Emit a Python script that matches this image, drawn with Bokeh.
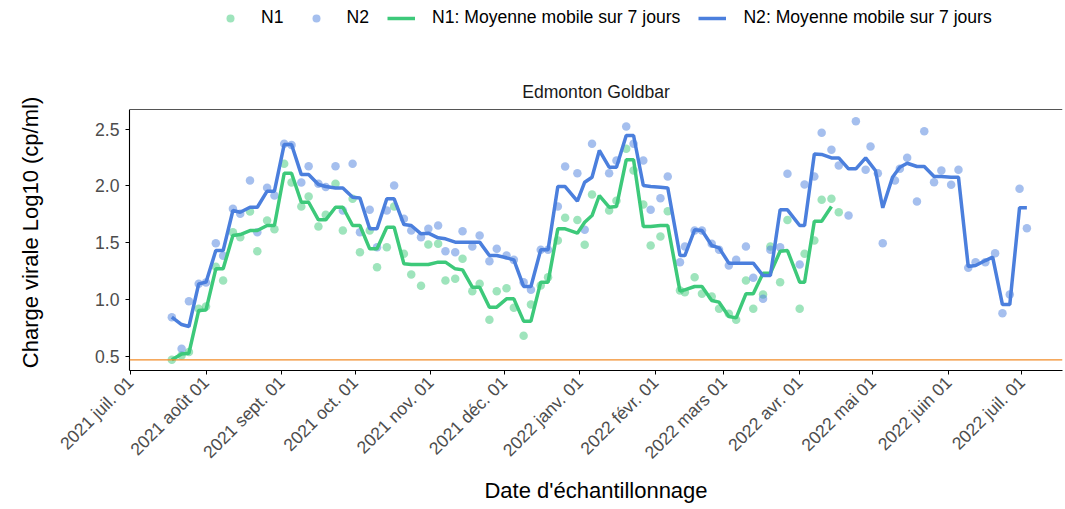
import math
import numpy as np
import pandas as pd
from bokeh.plotting import figure
from bokeh.layouts import row
from bokeh.models import (ColumnDataSource, FixedTicker, Legend, LegendItem, Span,
                          Label, Range1d, PrintfTickFormatter)
from bokeh.embed import file_html
from bokeh.resources import INLINE

# ---------------- data ----------------
sample_dates = [
    "2021-07-18", "2021-07-22", "2021-07-25", "2021-07-29", "2021-08-01", "2021-08-05",
    "2021-08-08", "2021-08-12", "2021-08-15", "2021-08-19", "2021-08-22", "2021-08-26",
    "2021-08-29", "2021-09-02", "2021-09-05", "2021-09-09", "2021-09-12", "2021-09-16",
    "2021-09-19", "2021-09-23", "2021-09-26", "2021-09-30", "2021-10-03", "2021-10-07",
    "2021-10-10", "2021-10-14", "2021-10-17", "2021-10-21", "2021-10-24", "2021-10-28",
    "2021-10-31", "2021-11-04", "2021-11-07", "2021-11-11", "2021-11-14", "2021-11-18",
    "2021-11-21", "2021-11-25", "2021-11-28", "2021-12-02", "2021-12-05", "2021-12-09",
    "2021-12-12", "2021-12-16", "2021-12-19", "2021-12-23", "2021-12-26", "2021-12-31",
    "2022-01-03", "2022-01-06", "2022-01-13", "2022-01-16", "2022-01-20", "2022-01-23",
    "2022-01-27", "2022-01-30", "2022-02-03", "2022-02-06", "2022-02-11", "2022-02-13",
    "2022-02-17", "2022-02-20", "2022-02-24", "2022-02-27", "2022-03-03", "2022-03-06",
    "2022-03-10", "2022-03-13", "2022-03-17", "2022-03-20", "2022-03-24", "2022-03-27",
    "2022-04-01", "2022-04-03", "2022-04-07", "2022-04-10", "2022-04-14", "2022-04-17",
    "2022-04-21", "2022-04-24", "2022-04-28", "2022-04-30", "2022-05-03", "2022-05-05",
    "2022-05-10", "2022-05-12", "2022-05-15", "2022-05-19", "2022-05-22", "2022-05-26",
    "2022-05-29", "2022-06-02", "2022-06-05", "2022-06-09", "2022-06-12", "2022-06-16",
    "2022-06-20", "2022-06-23", "2022-06-26", "2022-06-30", "2022-07-03",
]
n2 = [
    0.846, 0.568, 0.986, 1.14, 1.15, 1.497, 1.386, 1.80, 1.755, 2.048, 1.593, 1.984,
    1.916, 2.371, 2.36, 2.03, 2.174, 2.02, 1.99, 2.174, 1.784, 2.195, 1.593, 1.79,
    1.461, 1.784, 2.004, 1.711, 1.608, 1.55, 1.623, 1.652, 1.426, 1.417, 1.602, 1.467,
    1.564, 1.338, 1.447, 1.388, 1.35, 1.154, 1.087, 1.438, 1.44, 1.819, 2.171, 2.112,
    1.614, 2.371, 2.112, 2.224, 2.523, 2.371, 2.224, 1.79, 1.892, 2.083, 1.329, 1.467,
    1.608, 1.608, 1.491, 1.438, 1.30, 1.35, 1.467, 1.192, 1.007, 1.438, 1.461, 2.107,
    1.309, 2.013, 2.083, 2.467, 2.318, 2.18, 1.74, 2.57, 2.142, 2.347, 2.112, 1.497,
    2.048, 2.151, 2.248, 1.863, 2.482, 2.033, 2.136, 2.01, 2.142, 1.28, 1.329, 1.329,
    1.409, 0.881, 1.045, 1.975, 1.628,
]
n1 = [
    0.471, 0.51, 0.54, 0.92, 0.94, 1.29, 1.168, 1.593, 1.55, 1.775, 1.426, 1.696,
    1.62, 2.195, 2.03, 1.82, 1.907, 1.643, 1.746, 2.02, 1.608, 1.887, 1.417, 1.608,
    1.285, 1.461, 1.819, 1.403, 1.221, 1.122, 1.485, 1.491, 1.168, 1.183, 1.359, 1.074,
    1.139, 0.823, 1.074, 1.10, 0.928, 0.682, 0.957, 1.124, 1.198, 1.52, 1.72, 1.70,
    1.482, 1.925, 1.784, 1.87, 2.327, 2.136, 1.837, 1.476, 1.555, 1.778, 1.08, 1.066,
    1.198, 1.051, 1.028, 0.92, 0.876, 0.823, 1.168, 0.92, 1.045, 1.467, 1.154, 1.70,
    0.92, 1.403, 1.52, 1.878, 1.887, 1.769, None, None, None, None, None, None,
    None, None, None, None, None, None, None, None, None, None, None, None,
    None, None, None, None, None,
]

ma_dates = [
    "2021-07-18", "2021-07-22", "2021-07-25", "2021-07-29", "2021-08-01", "2021-08-05",
    "2021-08-08", "2021-08-12", "2021-08-15", "2021-08-19", "2021-08-22", "2021-08-26",
    "2021-08-29", "2021-09-02", "2021-09-05", "2021-09-09", "2021-09-12", "2021-09-16",
    "2021-09-19", "2021-09-23", "2021-09-26", "2021-09-30", "2021-10-03", "2021-10-07",
    "2021-10-10", "2021-10-14", "2021-10-17", "2021-10-21", "2021-10-24", "2021-10-28",
    "2021-10-31", "2021-11-04", "2021-11-07", "2021-11-11", "2021-11-14", "2021-11-18",
    "2021-11-21", "2021-11-25", "2021-11-28", "2021-12-02", "2021-12-05", "2021-12-09",
    "2021-12-12", "2021-12-16", "2021-12-19", "2021-12-23", "2021-12-26", "2021-12-31",
    "2022-01-03", "2022-01-06", "2022-01-09", "2022-01-13", "2022-01-16", "2022-01-20",
    "2022-01-23", "2022-01-27", "2022-01-30", "2022-02-03", "2022-02-06", "2022-02-11",
    "2022-02-13", "2022-02-17", "2022-02-20", "2022-02-24", "2022-02-27", "2022-03-03",
    "2022-03-06", "2022-03-10", "2022-03-13", "2022-03-17", "2022-03-20", "2022-03-24",
    "2022-03-27", "2022-04-01", "2022-04-03", "2022-04-07", "2022-04-10", "2022-04-14",
    "2022-04-17", "2022-04-21", "2022-04-24", "2022-04-28", "2022-05-02", "2022-05-05",
    "2022-05-09", "2022-05-12", "2022-05-15", "2022-05-19", "2022-05-22", "2022-05-26",
    "2022-05-29", "2022-06-02", "2022-06-05", "2022-06-09", "2022-06-12", "2022-06-16",
    "2022-06-19", "2022-06-23", "2022-06-26", "2022-06-30", "2022-07-03",
]
n2_ma = [
    0.846, 0.781, 0.764, 1.139, 1.154, 1.432, 1.432, 1.784, 1.769, 1.813, 1.813, 1.954,
    1.954, 2.365, 2.365, 2.10, 2.10, 2.013, 1.995, 1.983, 1.983, 1.901, 1.895, 1.623,
    1.623, 1.887, 1.887, 1.661, 1.652, 1.579, 1.585, 1.544, 1.535, 1.506, 1.506, 1.506,
    1.506, 1.388, 1.388, 1.368, 1.35, 1.116, 1.116, 1.438, 1.438, 1.995, 1.995, 1.866,
    2.033, 2.077, 2.312, 2.165, 2.165, 2.444, 2.444, 2.004, 1.995, 1.989, 1.983, 1.388,
    1.388, 1.614, 1.608, 1.476, 1.456, 1.321, 1.321, 1.321, 1.321, 1.212, 1.212, 1.790,
    1.790, 1.652, 1.652, 2.282, 2.277, 2.247, 2.247, 2.151, 2.151, 2.247, 2.136, 1.808,
    2.077, 2.165, 2.20, 2.171, 2.171, 2.083, 2.083, 2.077, 2.077, 1.292, 1.30, 1.344,
    1.374, 0.957, 0.957, 1.808, 1.808,
]
n1_ma = [
    0.471, 0.523, 0.529, 0.905, 0.910, 1.271, 1.271, 1.564, 1.573, 1.608, 1.608, 1.652,
    1.652, 2.112, 2.112, 1.857, 1.857, 1.702, 1.702, 1.813, 1.813, 1.652, 1.652, 1.447,
    1.447, 1.637, 1.637, 1.315, 1.309, 1.309, 1.309, 1.330, 1.330, 1.271, 1.262, 1.110,
    1.110, 0.934, 0.934, 1.007, 1.007, 0.811, 0.811, 1.154, 1.154, 1.623, 1.623, 1.585,
    1.681, 1.740, 1.916, 1.813, 1.819, 2.230, 2.230, 1.643, 1.643, 1.652, 1.652, 1.075,
    1.086, 1.116, 1.116, 0.993, 0.978, 0.852, 0.840, 1.051, 1.051, 1.233, 1.233, 1.426,
    1.432, 1.154, 1.154, 1.690, 1.690, 1.819, None, None, None, None, None, None,
    None, None, None, None, None, None, None, None, None, None, None, None,
    None, None, None, None, None,
]

tick_dates = ["2021-07-01", "2021-08-01", "2021-09-01", "2021-10-01", "2021-11-01",
              "2021-12-01", "2022-01-01", "2022-02-01", "2022-03-01", "2022-04-01",
              "2022-05-01", "2022-06-01", "2022-07-01"]
tick_labels = ["2021 juil. 01", "2021 août 01", "2021 sept. 01", "2021 oct. 01",
               "2021 nov. 01", "2021 déc. 01", "2022 janv. 01", "2022 févr. 01",
               "2022 mars 01", "2022 avr. 01", "2022 mai 01", "2022 juin 01",
               "2022 juil. 01"]
y_ticks = [0.5, 1.0, 1.5, 2.0, 2.5]
seuil = 0.471
site = "Edmonton Goldbar"
y_title = "Charge virale Log10 (cp/ml)"
x_title = "Date d'échantillonnage"

# ---------------- layout / styling ----------------
FONT = "Liberation Sans"
GREEN = "#3DC97A"
BLUE = "#4B7FDD"
ORANGE = "#F28C28"

W_TOTAL, H = 1065, 509
W_YT = 50                       # narrow strip holding the y title
W = W_TOTAL - W_YT
ML, MR, MT, MB = 129 - W_YT, 3, 0, 139
frame_w = W - ML - MR
frame_h = H - MT - MB           # frame covers the legend/strip area too
panel_top_px = 109              # visible panel top (px from top of figure)

px_per_day = 2.443
x_start = pd.Timestamp("2021-07-01") - pd.Timedelta(days=0.8 / px_per_day)
x_end = x_start + pd.Timedelta(days=frame_w / px_per_day)

px_per_unit = 113.7
y_bottom = 0.377
y_top_panel = y_bottom + (frame_h - panel_top_px) / px_per_unit
y_top = y_bottom + frame_h / px_per_unit

src = ColumnDataSource(dict(
    date=pd.to_datetime(sample_dates),
    n1=np.array([np.nan if v is None else v for v in n1], dtype=float),
    n2=np.array(n2, dtype=float),
))
src_ma1 = ColumnDataSource(dict(
    date=pd.to_datetime([d for d, v in zip(ma_dates, n1_ma) if v is not None]),
    v=[v for v in n1_ma if v is not None],
))
src_ma2 = ColumnDataSource(dict(date=pd.to_datetime(ma_dates), v=n2_ma))

p = figure(width=W, height=H, x_axis_type="datetime",
           x_range=Range1d(x_start, x_end), y_range=Range1d(y_bottom, y_top),
           output_backend="svg", toolbar_location=None,
           min_border_left=ML, min_border_right=MR, min_border_top=MT,
           min_border_bottom=MB)
p.outline_line_color = None
p.xgrid.visible = False
p.ygrid.visible = False
p.background_fill_color = "white"
p.border_fill_color = "white"

p.add_layout(Span(location=seuil, dimension="width", line_color=ORANGE, line_width=1.3))
# top border of the panel
p.add_layout(Span(location=y_top_panel, dimension="width", line_color="#555555",
                  line_width=1.1))

r_n1 = p.scatter("date", "n1", source=src, size=8.5, fill_color=GREEN, fill_alpha=0.5,
                 line_color=None)
r_n2 = p.scatter("date", "n2", source=src, size=8.5, fill_color=BLUE, fill_alpha=0.5,
                 line_color=None)
r_m1 = p.line("date", "v", source=src_ma1, line_color=GREEN, line_width=3.5)
r_m2 = p.line("date", "v", source=src_ma2, line_color=BLUE, line_width=3.5)

# axes
xa = p.xaxis[0]
xa.ticker = FixedTicker(ticks=[pd.Timestamp(d).value / 1e6 for d in tick_dates])
xa.major_label_overrides = {pd.Timestamp(d).value / 1e6: l for d, l in zip(tick_dates, tick_labels)}
xa.major_label_orientation = math.pi / 4
xa.axis_label = x_title
ya = p.yaxis[0]
ya.ticker = FixedTicker(ticks=y_ticks)
ya.formatter = PrintfTickFormatter(format="%.1f")
ya.bounds = (y_bottom, y_top_panel)
for ax in (xa, ya):
    ax.axis_line_color = "black"
    ax.axis_line_width = 1.1
    ax.major_tick_line_color = "black"
    ax.major_tick_in = 0
    ax.major_tick_out = 4
    ax.minor_tick_line_color = None
    ax.major_label_text_font = FONT
    ax.major_label_text_font_size = "17.6px"
    ax.major_label_text_color = "#4D4D4D"
    ax.major_label_standoff = 6
    ax.axis_label_text_font = FONT
    ax.axis_label_text_font_size = "22px"
    ax.axis_label_text_font_style = "normal"
    ax.axis_label_text_color = "black"
xa.major_label_standoff = 5
xa.axis_label_standoff = 5

# strip title
p.add_layout(Label(x=frame_w / 2, y=frame_h - 91, x_units="screen", y_units="screen",
                   text=site, text_align="center", text_baseline="alphabetic",
                   text_font=FONT, text_font_size="17.6px", text_color="#1A1A1A"))

legend = Legend(items=[
    LegendItem(label="N1", renderers=[r_n1]),
    LegendItem(label="N2", renderers=[r_n2]),
    LegendItem(label="N1: Moyenne mobile sur 7 jours", renderers=[r_m1]),
    LegendItem(label="N2: Moyenne mobile sur 7 jours", renderers=[r_m2]),
], orientation="horizontal", location=(87, frame_h - 28), glyph_width=28,
    glyph_height=20, label_height=20, label_standoff=17, spacing=18, padding=0, margin=0,
    border_line_color=None, background_fill_alpha=0, label_text_font=FONT,
    label_text_font_size="17.6px", label_text_color="black")
p.add_layout(legend)

# narrow strip on the left with the y title (its frame has the same vertical
# extent as the main frame: 0 .. frame_h px); kept fully inside that frame
fy = figure(width=W_YT, height=H, x_range=Range1d(0, W_YT), y_range=Range1d(0, frame_h),
            output_backend="svg", toolbar_location=None,
            min_border_left=0, min_border_right=0, min_border_top=MT,
            min_border_bottom=MB, x_axis_location=None, y_axis_location=None)
fy.outline_line_color = None
fy.xgrid.visible = False
fy.ygrid.visible = False
fy.background_fill_color = "white"
fy.border_fill_color = "white"
y_title_mid_from_top = 232
fy.add_layout(Label(x=30, y=frame_h - y_title_mid_from_top, text=y_title,
                    angle=math.pi / 2, text_align="center", text_baseline="middle",
                    text_font=FONT, text_font_size="22px", text_color="black"))

layout = row(fy, p, spacing=0)
open("out.html", "w").write(file_html(layout, INLINE))
